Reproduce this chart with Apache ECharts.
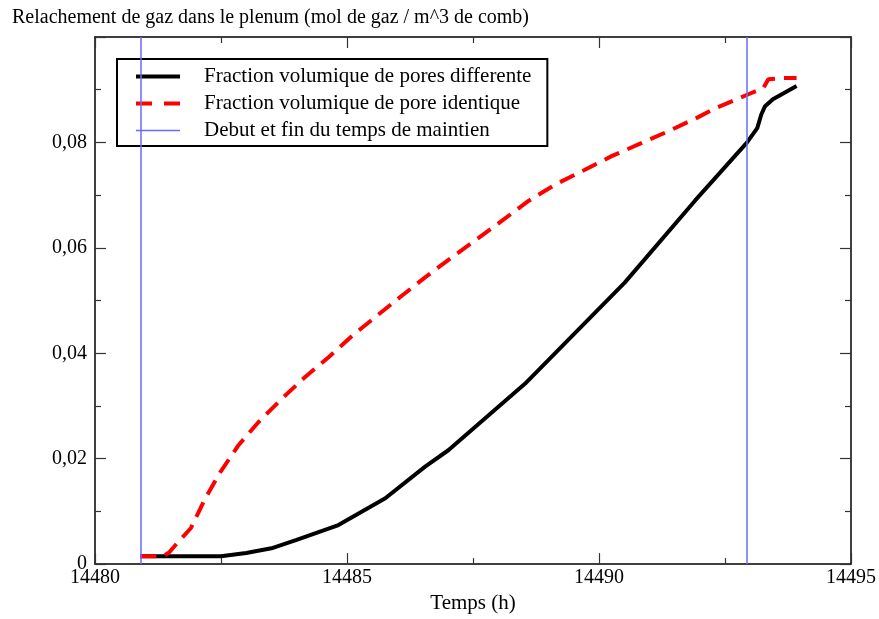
<!DOCTYPE html>
<html>
<head>
<meta charset="utf-8">
<script src="https://cdn.jsdelivr.net/npm/echarts@6/dist/echarts.min.js"></script>
<style>html,body{margin:0;padding:0;background:#fff;}#c{width:879px;height:619px;}</style>
</head>
<body>
<div id="c"></div>
<script>
var titleText = "Relachement de gaz dans le plenum (mol de gaz / m^3 de comb)";
var xName = "Temps (h)";
var seriesNames = ["Fraction volumique de pores differente", "Fraction volumique de pore identique", "Debut et fin du temps de maintien"];

var blackX = [14480.9, 14482.5, 14483.0, 14483.5, 14484.0, 14484.83, 14485.76, 14486.55, 14487.01, 14488.53, 14490.51, 14491.90, 14492.93, 14493.14, 14493.22, 14493.29, 14493.45, 14493.92];
var blackY = [0.0015, 0.0015, 0.0021, 0.0030, 0.0046, 0.0074, 0.0125, 0.0185, 0.0216, 0.0342, 0.0534, 0.0689, 0.0799, 0.0827, 0.0853, 0.0868, 0.0882, 0.0907];

var redX = [14480.9, 14481.35, 14481.47, 14481.66, 14481.90, 14482.19, 14482.49, 14482.85, 14483.25, 14483.71, 14484.17, 14484.64, 14485.10, 14485.63, 14486.10, 14486.55, 14487.08, 14488.07, 14488.60, 14489.13, 14489.72, 14490.25, 14490.85, 14491.44, 14491.97, 14492.27, 14492.93, 14493.26, 14493.36, 14493.62, 14493.92];
var redY = [0.0015, 0.0015, 0.0022, 0.0043, 0.0068, 0.0125, 0.0175, 0.0226, 0.0270, 0.0314, 0.0355, 0.0393, 0.0433, 0.0474, 0.0510, 0.0544, 0.0582, 0.0651, 0.0689, 0.0720, 0.0748, 0.0774, 0.0799, 0.0824, 0.0848, 0.0863, 0.0890, 0.0903, 0.0920, 0.0922, 0.0922];

var blueX = [14480.9, 14492.93];

var xMin = 14480, xMax = 14495, xInterval = 5;
var yMin = 0, yMax = 0.1, yInterval = 0.02;

function pairs(xs, ys) { return xs.map(function (x, i) { return [x, ys[i]]; }); }

var font = "'Liberation Serif', 'DejaVu Serif', serif";
var chart = echarts.init(document.getElementById('c'), null, {renderer: 'canvas'});

function xAxisCfg(pos, showLabels) {
  return {
    type: 'value', position: pos, min: xMin, max: xMax, interval: xInterval,
    name: showLabels ? xName : '', nameLocation: 'middle', nameGap: 27,
    nameTextStyle: {fontFamily: font, fontSize: 21, color: '#000'},
    axisLine: {show: true, onZero: false, lineStyle: {color: '#000', width: 1.5}},
    axisTick: {show: true, inside: true, length: 11, lineStyle: {color: '#333', width: 1.2}},
    minorTick: {show: true, splitNumber: 2, length: 6, lineStyle: {color: '#333', width: 1.2}},
    axisLabel: {show: showLabels, fontFamily: font, fontSize: 20, color: '#000', margin: 4,
      formatter: function (v) { return String(v); }},
    splitLine: {show: false}
  };
}
function yAxisCfg(pos, showLabels) {
  return {
    type: 'value', position: pos, min: yMin, max: yMax, interval: yInterval,
    axisLine: {show: true, onZero: false, lineStyle: {color: '#000', width: 1.5}},
    axisTick: {show: true, inside: true, length: 11, lineStyle: {color: '#333', width: 1.2}},
    minorTick: {show: true, splitNumber: 2, length: 6, lineStyle: {color: '#333', width: 1.2}},
    axisLabel: {show: showLabels, fontFamily: font, fontSize: 20, color: '#000', margin: 8, showMaxLabel: false,
      formatter: function (v) { return v === 0 ? '0' : v.toFixed(2).replace('.', ','); }},
    splitLine: {show: false}
  };
}

chart.setOption({
  animation: false,
  backgroundColor: '#fff',
  title: {text: titleText, left: 7, top: 3, textStyle: {fontFamily: font, fontSize: 20, fontWeight: 'normal', color: '#000'}},
  grid: {left: 95, right: 26, top: 37, bottom: 54},
  legend: {
    orient: 'vertical', left: 117, top: 59,
    itemWidth: 44, itemHeight: 12, itemGap: 6,
    padding: [7, 16, 5, 17],
    borderColor: '#000', borderWidth: 2, backgroundColor: '#fff',
    itemStyle: {opacity: 0},
    textStyle: {fontFamily: font, fontSize: 21, lineHeight: 21, color: '#000', padding: [0, 0, 0, 19]},
    data: [
      {name: seriesNames[0], lineStyle: {width: 4, color: '#000', type: 'solid'}},
      {name: seriesNames[1], lineStyle: {width: 4, color: '#ff0000', type: [16, 12]}},
      {name: seriesNames[2], lineStyle: {width: 1.5, color: '#6a6aff', type: 'solid'}}
    ]
  },
  xAxis: [xAxisCfg('bottom', true), xAxisCfg('top', false)],
  yAxis: [yAxisCfg('left', true), yAxisCfg('right', false)],
  series: [
    {
      name: seriesNames[2], type: 'line', data: [], symbol: 'none',
      lineStyle: {color: '#6a6aff', width: 1.5}, itemStyle: {color: '#6a6aff'},
      markLine: {silent: true, symbol: 'none', label: {show: false},
        lineStyle: {color: '#6a6aff', width: 1.5, type: 'solid'},
        data: blueX.map(function (x) { return {xAxis: x}; })}
    },
    {
      name: seriesNames[0], type: 'line', data: pairs(blackX, blackY), symbol: 'none', smooth: false,
      lineStyle: {color: '#000', width: 4}, itemStyle: {color: '#000'}
    },
    {
      name: seriesNames[1], type: 'line', data: pairs(redX, redY), symbol: 'none', smooth: false,
      lineStyle: {color: '#ff0000', width: 4, type: [16, 9]}, itemStyle: {color: '#ff0000'}
    }
  ]
});
</script>
</body>
</html>
